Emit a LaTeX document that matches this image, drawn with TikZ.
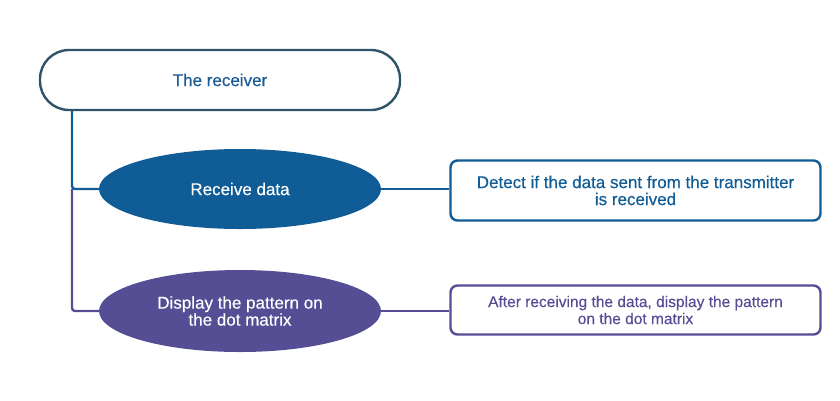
\documentclass[tikz,border=0pt]{standalone}
\usepackage{fontspec}
\setmainfont{Liberation Sans}[FakeBold=0.3]
\definecolor{RxTeal}{HTML}{2F5467}
\definecolor{RxBlue}{HTML}{0F5C96}
\definecolor{RxPurple}{HTML}{554E94}
\definecolor{RxText}{HTML}{1B5B96}
\definecolor{RxWhite}{HTML}{FFFFFF}
\usetikzlibrary{positioning,shapes.geometric,calc}
\tikzset{
  rxfont/.style={font=\fontsize{17}{17}\selectfont},
  rxtitle/.style={draw=RxTeal, line width=2.4pt, fill=RxWhite, rounded corners=29pt,
    minimum width=360pt, minimum height=60pt, text=RxText, rxfont},
  rxtask/.style={ellipse, fill=#1, text=RxWhite, minimum width=282pt, minimum height=80pt,
    align=center, inner sep=0pt, rxfont},
  rxnote/.style={draw=#1, line width=2.4pt, fill=RxWhite, rounded corners=7pt,
    minimum width=370pt, text=#1, align=center, rxfont},
  rxlink/.style={line width=2.4pt, #1}
}
\begin{document}
\begin{tikzpicture}[x=1pt, y=-1pt]
  \useasboundingbox (0,0) rectangle (840,400);
  % the receiver and its two tasks
  \node[rxtitle] (rx) at (220,80) {The receiver};
  \node[rxtask=RxBlue] (recv) at (240,189) {Receive data};
  \node[rxtask=RxPurple, minimum height=82pt] (disp) at (240,311) {Display the pattern on\\the dot matrix};
  \node[rxnote=RxBlue, minimum height=60pt] (recvnote) at (635.5,190.5) {Detect if the data sent from the transmitter\\is received};
  \node[rxnote=RxPurple, minimum height=49pt, font=\fontsize{15.5}{17}\selectfont] (dispnote) at (635.5,310) {After receiving the data, display the pattern\\on the dot matrix};
  \coordinate (spine) at (72,189);
  % connectors
  \draw[rxlink=RxBlue, rounded corners=3pt] (spine |- rx.south) -- (spine) -- (recv.west);
  \draw[rxlink=RxPurple, rounded corners=3pt] (spine) -- (spine |- disp.west) -- (disp.west);
  \draw[rxlink=RxBlue] (recv.east) -- (recv.east -| recvnote.west);
  \draw[rxlink=RxPurple] (disp.east) -- (disp.east -| dispnote.west);
\end{tikzpicture}
\end{document}
